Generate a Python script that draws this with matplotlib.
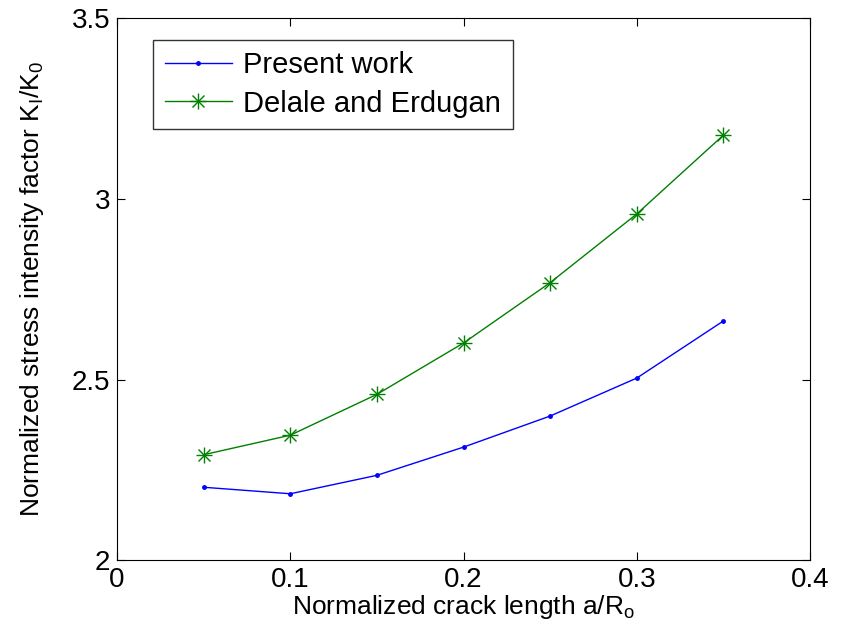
# Fator de intensidade de tensão normalizado vs comprimento de trinca
import matplotlib
matplotlib.use("Agg")
import matplotlib.pyplot as plt
from matplotlib.legend_handler import HandlerTuple

# Dados
crack_len = [0.05, 0.10, 0.15, 0.20, 0.25, 0.30, 0.35]
present_work = [2.202, 2.184, 2.235, 2.313, 2.399, 2.504, 2.662]
delale_erdugan = [2.292, 2.346, 2.459, 2.601, 2.768, 2.958, 3.176]

x_ticks = [0, 0.1, 0.2, 0.3, 0.4]
x_labels = ['0', '0.1', '0.2', '0.3', '0.4']
y_ticks = [2, 2.5, 3, 3.5]
y_labels = ['2', '2.5', '3', '3.5']

plt.rcParams['font.family'] = ['Liberation Sans', 'DejaVu Sans']
plt.rcParams['mathtext.fontset'] = 'custom'
plt.rcParams['mathtext.rm'] = 'Liberation Sans'

fig = plt.figure(figsize=(8.42, 6.44), dpi=100)
ax = fig.add_axes([0.139, 0.130, 0.823, 0.842])

l1, = ax.plot(crack_len, present_work, color='#0000ff', lw=1.0, marker='.', ms=5)
# asterisco estilo MATLAB = '+' sobreposto a 'x'
l2, = ax.plot(crack_len, delale_erdugan, color='#008000', lw=1.0, marker='+', ms=11,
              mew=1.0)
l3, = ax.plot(crack_len, delale_erdugan, color='#008000', lw=0, marker='x', ms=8,
              mew=1.0)

ax.set_xlim(0, 0.4)
ax.set_ylim(2, 3.5)
ax.set_xticks(x_ticks)
ax.set_xticklabels(x_labels)
ax.set_yticks(y_ticks)
ax.set_yticklabels(y_labels)
ax.tick_params(direction='in', top=True, right=True, labelsize=20, length=6, pad=5)

ax.set_xlabel('Normalized crack length a/R$_\\mathregular{o}$', fontsize=19, labelpad=0)
ax.set_ylabel('Normalized stress intensity factor K$_\\mathregular{I}$/K$_\\mathregular{0}$',
              fontsize=19, labelpad=18)

leg = ax.legend([l1, (l2, l3)], ['Present work', 'Delale and Erdugan'],
                handler_map={tuple: HandlerTuple(ndivide=1, pad=0)},
                loc='upper left', bbox_to_anchor=(0.052, 0.96), fontsize=21,
                frameon=True, fancybox=False, edgecolor='black',
                handlelength=2.3, handletextpad=0.4, borderpad=0.4,
                labelspacing=0.35, borderaxespad=0)
leg.get_frame().set_linewidth(1.0)

fig.savefig('out.png', dpi=100)
